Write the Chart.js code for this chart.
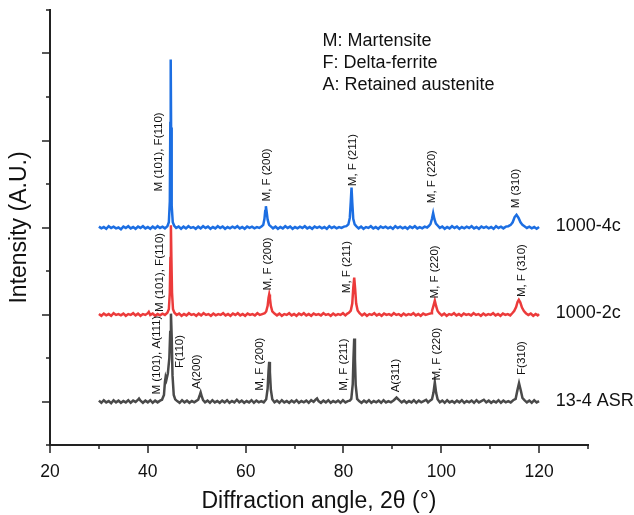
<!DOCTYPE html>
<html>
<head>
<meta charset="utf-8">
<script src="https://cdn.jsdelivr.net/npm/chart.js@4"></script>
<style>
  html, body { margin: 0; padding: 0; background: #fff; }
  #wrap { width: 634px; height: 515px; }
</style>
</head>
<body>
<div id="wrap"><canvas id="xrd" width="634" height="515"></canvas></div>
<script>
// ---- data: [2theta, offset intensity] ----
const SERIES_NAMES = ['1000-4c', '1000-2c', '13-4 ASR'];
const SERIES_COLORS = ['#1c6ee2', '#ec3b3b', '#4a4a4a'];

const PTS_4C = [
  [30,5.02],[30.5,4.98],[31,5.01],[31.5,4.97],[32,5.03],[32.5,4.99],[33,5.02],[33.5,4.98],[34,5.00],[34.5,4.96],
  [35,5.02],[35.5,4.99],[36,5.03],[36.5,4.98],[37,5.01],[37.5,4.97],[38,5.02],[38.5,4.99],[39,5.03],[39.5,4.98],
  [40,5.01],[40.5,4.97],[41,5.02],[41.5,4.98],[42,5.03],[42.5,4.99],[43,5.02],[43.5,4.98],[44,5.03],
  [44.3,5.12],[44.5,5.6],[44.6,7.4],[44.68,8.86],[44.76,7.3],[44.88,5.5],[45.1,5.12],[45.4,5.04],
  [45.8,4.99],[46.3,5.02],[46.8,4.97],[47.3,5.02],[47.8,4.98],[48.3,5.03],[48.8,4.99],[49.3,5.01],[49.8,4.97],[50.3,5.02],
  [50.8,4.98],[51.3,5.03],[51.8,4.99],[52.3,5.02],[52.8,4.97],[53.3,5.01],[53.8,4.98],[54.3,5.03],[54.8,4.99],[55.3,5.02],
  [55.8,4.97],[56.3,5.01],[56.8,4.98],[57.3,5.02],[57.8,4.99],[58.3,5.03],[58.8,4.98],[59.3,5.01],[59.8,4.97],[60.3,5.02],
  [60.8,4.99],[61.3,5.02],[61.8,4.98],[62.3,5.01],[62.8,4.99],[63.3,5.03],
  [63.6,5.06],[63.85,5.2],[64.0,5.38],[64.14,5.49],[64.3,5.36],[64.5,5.18],[64.8,5.06],[65.2,5.02],
  [65.6,4.98],[66.1,5.02],[66.6,4.97],[67.1,5.01],[67.6,4.98],[68.1,5.03],[68.6,4.99],[69.1,5.02],[69.6,4.97],[70.1,5.01],
  [70.6,4.98],[71.1,5.02],[71.6,4.99],[72.1,5.03],[72.6,4.98],[73.1,5.01],[73.6,4.97],[74.1,5.02],[74.6,4.99],[75.1,5.02],
  [75.6,4.98],[76.1,5.01],[76.6,4.97],[77.1,5.03],[77.6,4.99],[78.1,5.02],[78.6,4.98],[79.1,5.01],[79.6,4.99],[80.1,5.02],[80.6,5.03],
  [81.0,5.07],[81.3,5.22],[81.5,5.6],[81.65,5.92],[81.8,5.58],[82.0,5.2],[82.3,5.07],[82.7,5.02],
  [83.1,4.98],[83.6,5.02],[84.1,4.97],[84.6,5.01],[85.1,4.99],[85.6,5.03],[86.1,4.98],[86.6,5.01],[87.1,4.97],[87.6,5.02],
  [88.1,4.99],[88.6,5.02],[89.1,4.98],[89.6,5.01],[90.1,4.97],[90.6,5.03],[91.1,4.99],[91.6,5.02],[92.1,4.98],[92.6,5.01],
  [93.1,4.97],[93.6,5.02],[94.1,4.99],[94.6,5.03],[95.1,4.98],[95.6,5.01],[96.1,4.98],[96.6,5.02],[97.1,5.00],[97.5,5.04],
  [97.8,5.08],[98.1,5.2],[98.34,5.33],[98.6,5.19],[98.9,5.09],[99.3,5.04],
  [99.7,4.99],[100.2,5.02],[100.7,4.97],[101.2,5.01],[101.7,4.98],[102.2,5.03],[102.7,4.99],[103.2,5.02],[103.7,4.97],[104.2,5.01],
  [104.7,4.98],[105.2,5.02],[105.7,4.99],[106.2,5.03],[106.7,4.98],[107.2,5.01],[107.7,4.97],[108.2,5.02],[108.7,4.99],[109.2,5.02],
  [109.7,4.98],[110.2,5.01],[110.7,4.97],[111.2,5.03],[111.7,4.99],[112.2,5.02],[112.7,4.98],[113.2,5.02],[113.7,5.03],
  [114.2,5.06],[114.6,5.12],[115.0,5.24],[115.38,5.29],[115.8,5.22],[116.2,5.12],[116.6,5.06],[117.0,5.03],
  [117.5,4.99],[118.0,5.02],[118.5,4.98],[119.0,5.01],[119.5,4.97],[120,5.01]
];

const PTS_2C = [
  [30,3.01],[30.5,2.97],[31,3.02],[31.5,2.98],[32,3.01],[32.5,2.97],[33,3.03],[33.5,2.99],[34,3.01],[34.5,2.98],
  [35,3.02],[35.5,2.97],[36,3.01],[36.5,2.99],[37,3.03],[37.5,2.98],[38,3.02],[38.5,2.97],[39,3.01],[39.5,2.99],
  [40,3.03],[40.2,3.06],[40.5,2.99],[41,3.02],[41.5,2.97],[42,3.01],[42.5,2.98],[43,3.02],[43.5,2.99],[44,3.04],
  [44.3,3.12],[44.5,3.5],[44.62,4.3],[44.72,5.05],[44.82,4.3],[44.95,3.5],[45.15,3.12],[45.45,3.04],
  [45.9,2.99],[46.4,3.02],[46.9,2.97],[47.4,3.01],[47.9,2.98],[48.4,3.03],[48.9,2.99],[49.4,3.01],[49.9,2.97],[50.4,3.02],
  [50.9,2.98],[51.4,3.03],[51.9,2.99],[52.4,3.01],[52.9,2.97],[53.4,3.02],[53.9,2.98],[54.4,3.01],[54.9,2.99],[55.4,3.03],
  [55.9,2.98],[56.4,3.01],[56.9,2.97],[57.4,3.02],[57.9,2.99],[58.4,3.03],[58.9,2.98],[59.4,3.01],[59.9,2.97],[60.4,3.02],
  [60.9,2.99],[61.4,3.01],[61.9,2.98],[62.4,3.03],[62.9,2.99],[63.4,3.01],[63.9,3.03],
  [64.2,3.07],[64.5,3.2],[64.68,3.38],[64.82,3.46],[64.97,3.37],[65.15,3.2],[65.45,3.07],[65.9,3.02],
  [66.4,2.98],[66.9,3.02],[67.4,2.97],[67.9,3.01],[68.4,2.99],[68.9,3.03],[69.4,2.98],[69.9,3.01],[70.4,2.97],[70.9,3.02],
  [71.4,2.99],[71.9,3.03],[72.4,2.98],[72.9,3.01],[73.4,2.97],[73.9,3.02],[74.4,2.99],[74.9,3.01],[75.4,2.98],[75.9,3.03],
  [76.4,2.99],[76.9,3.01],[77.4,2.97],[77.9,3.02],[78.4,2.98],[78.9,3.01],[79.4,2.99],[79.9,3.03],[80.4,2.98],[80.8,3.02],[81.1,3.04],
  [81.5,3.09],[81.8,3.25],[82.0,3.6],[82.2,3.85],[82.38,3.6],[82.6,3.25],[82.9,3.09],[83.3,3.03],
  [83.8,2.98],[84.3,3.02],[84.8,2.97],[85.3,3.01],[85.8,2.99],[86.3,3.03],[86.8,2.98],[87.3,3.01],[87.8,2.97],[88.3,3.02],
  [88.8,2.99],[89.3,3.01],[89.8,2.98],[90.3,3.03],[90.8,2.99],[91.3,3.01],[91.8,2.97],[92.3,3.02],[92.8,2.98],[93.3,3.01],
  [93.8,2.99],[94.3,3.03],[94.8,2.98],[95.3,3.01],[95.8,2.97],[96.3,3.02],[96.8,2.99],[97.3,3.01],[97.9,3.03],
  [98.1,3.08],[98.4,3.2],[98.68,3.32],[98.95,3.19],[99.25,3.08],[99.6,3.03],
  [100.1,2.98],[100.6,3.02],[101.1,2.97],[101.6,3.01],[102.1,2.99],[102.6,3.03],[103.1,2.98],[103.6,3.01],[104.1,2.97],[104.6,3.02],
  [105.1,2.99],[105.6,3.01],[106.1,2.98],[106.6,3.03],[107.1,2.99],[107.6,3.01],[108.1,2.97],[108.6,3.02],[109.1,2.98],[109.6,3.01],
  [110.1,2.99],[110.6,3.03],[111.1,2.98],[111.6,3.01],[112.1,2.97],[112.6,3.02],[113.1,2.99],[113.6,3.01],[114.1,2.98],[114.6,3.04],
  [114.9,3.08],[115.3,3.17],[115.6,3.29],[115.85,3.34],[116.15,3.28],[116.5,3.16],[116.9,3.08],[117.3,3.03],
  [117.8,2.99],[118.3,3.02],[118.8,2.97],[119.3,3.01],[119.7,2.98],[120,3.01]
];

const PTS_ASR = [
  [30,1.02],[30.5,0.97],[31,1.03],[31.5,0.98],[32,1.01],[32.5,0.96],[33,1.03],[33.5,0.98],[34,1.02],[34.5,0.97],
  [35,1.01],[35.5,0.98],[36,1.03],[36.5,0.97],[37,1.02],[37.5,0.99],[37.9,1.03],[38.2,1.07],[38.5,1.02],[39,0.97],
  [39.5,1.02],[40,0.98],[40.5,1.03],[41,0.97],[41.5,1.02],[42,0.98],[42.5,1.02],[42.9,1.04],
  [43.3,1.15],[43.5,1.45],[43.64,1.56],[43.8,1.5],[44.1,1.65],[44.4,2.0],[44.58,2.6],[44.73,3.02],[44.88,2.5],[45.05,1.6],[45.3,1.15],[45.6,1.05],
  [46,1.01],[46.5,0.97],[47,1.03],[47.5,0.98],[48,1.02],[48.5,0.97],[49,1.01],[49.5,0.98],[50,1.02],[50.3,1.04],
  [50.55,1.12],[50.8,1.21],[51.05,1.11],[51.3,1.03],
  [51.7,0.98],[52.2,1.02],[52.7,0.97],[53.2,1.03],[53.7,0.98],[54.2,1.01],[54.7,0.97],[55.2,1.02],[55.7,0.98],[56.2,1.03],
  [56.7,0.97],[57.2,1.01],[57.7,0.98],[58.2,1.04],[58.7,0.98],[59.2,1.02],[59.7,0.97],[60.2,1.01],[60.7,0.98],[61.2,1.03],
  [61.7,0.97],[62.2,1.02],[62.7,0.98],[63.2,1.01],[63.7,0.98],[64.2,1.05],
  [64.5,1.3],[64.68,1.7],[64.82,1.91],[64.96,1.68],[65.15,1.28],[65.45,1.05],
  [65.9,0.98],[66.4,1.02],[66.9,0.97],[67.4,1.03],[67.9,0.98],[68.4,1.01],[68.9,0.97],[69.4,1.02],[69.9,0.98],[70.4,1.03],
  [70.9,0.97],[71.4,1.01],[71.9,0.98],[72.4,1.02],[72.9,0.97],[73.4,1.03],[73.9,0.99],[74.3,1.04],[74.6,1.07],[74.9,1.01],
  [75.4,0.97],[75.9,1.02],[76.4,0.98],[76.9,1.03],[77.4,0.97],[77.9,1.01],[78.4,0.98],[78.9,1.02],[79.4,0.97],[79.9,1.03],
  [80.4,0.98],[80.9,1.01],[81.3,1.02],[81.6,1.06],
  [81.9,1.4],[82.05,2.0],[82.2,2.45],[82.35,1.98],[82.5,1.38],[82.8,1.06],
  [83.2,1.01],[83.7,0.97],[84.2,1.02],[84.7,0.98],[85.2,1.03],[85.7,0.97],[86.2,1.01],[86.7,0.98],[87.2,1.02],[87.7,0.97],
  [88.2,1.03],[88.7,0.98],[89.2,1.01],[89.7,0.98],[90.3,1.03],[90.85,1.09],[91.4,1.03],[91.9,0.98],[92.4,1.02],[92.9,0.97],
  [93.4,1.01],[93.9,0.98],[94.4,1.03],[94.9,0.97],[95.4,1.02],[95.9,0.98],[96.4,1.01],[96.9,1.04],[97.3,0.98],[97.7,1.02],[98.1,1.05],
  [98.4,1.2],[98.68,1.44],[98.95,1.2],[99.25,1.05],
  [99.7,0.98],[100.2,1.02],[100.7,0.97],[101.2,1.03],[101.7,0.98],[102.2,1.01],[102.7,0.97],[103.2,1.02],[103.7,0.98],[104.2,1.03],
  [104.7,0.97],[105.2,1.01],[105.7,0.98],[106.2,1.02],[106.7,0.97],[107.2,1.03],[107.7,0.98],[108.2,1.01],[108.7,1.04],[109.2,0.98],
  [109.7,1.02],[110.2,0.97],[110.7,1.01],[111.2,0.98],[111.7,1.03],[112.2,0.97],[112.7,1.02],[113.2,0.98],[113.7,1.01],[114.2,0.98],[114.7,1.03],
  [115.2,1.06],[115.55,1.25],[115.9,1.42],[116.25,1.26],[116.6,1.08],[117.0,1.03],
  [117.5,0.98],[118,1.02],[118.5,0.97],[119,1.03],[119.5,0.98],[120,1.01]
];

// x tick labels (only every 20 degrees is labelled)
const X_TICK_LABELS = ['20', '40', '60', '80', '100', '120'];

// peak labels: text, 2theta of the text column, intensity where the text starts
const PEAK_TEXT = [
  'M (101), F(110)', 'M, F (200)', 'M, F (211)', 'M, F (220)', 'M (310)',
  'M (101), F(110)', 'M, F (200)', 'M, F (211)', 'M, F (220)', 'M, F (310)',
  'M (101), A(111)', 'F(110)', 'A(200)', 'M, F (200)', 'M, F (211)', 'A(311)', 'M, F (220)', 'F(310)'
];
const PEAK_X = [
  42.34, 64.29, 81.86, 98.01, 115.24,
  42.48, 64.62, 80.64, 98.68, 116.4,
  41.81, 46.57, 49.98, 62.91, 80.15, 90.65, 99.03, 116.4
];
const PEAK_Y = [
  5.83, 5.60, 5.95, 5.56, 5.44,
  3.06, 3.55, 3.49, 3.37, 3.40,
  1.16, 1.77, 1.29, 1.25, 1.25, 1.21, 1.48, 1.61
];

const KEY_LINES = ['M: Martensite', 'F: Delta-ferrite', 'A: Retained austenite'];
const KEY_X = 75.7;
const KEY_Y = [9.29, 8.79, 8.27];

const NAME_X = 123.4;
const NAME_Y = [5.04, 3.03, 1.0];

const FONT = '"Liberation Sans", Arial, sans-serif';

const toXY = pts => pts.map(p => ({ x: p[0], y: p[1] }));

// tick marks (long on major, short on minor) + text annotations
const annotate = {
  id: 'annotate',
  afterDraw(chart) {
    const ctx = chart.ctx;
    const xs = chart.scales.x, ys = chart.scales.y;
    const area = chart.chartArea;
    ctx.save();
    ctx.strokeStyle = '#222';
    ctx.lineWidth = 1.5;
    ctx.beginPath();
    for (let v = 20; v <= 130; v += 10) {
      const px = Math.round(xs.getPixelForValue(v));
      const len = (v % 20 === 0) ? 8 : 4;
      ctx.moveTo(px, area.bottom);
      ctx.lineTo(px, area.bottom + len);
    }
    for (let v = 0; v <= 10; v += 1) {
      const py = Math.round(ys.getPixelForValue(v));
      const len = (v % 2 === 1) ? 8 : 4;
      ctx.moveTo(area.left, py);
      ctx.lineTo(area.left - len, py);
    }
    ctx.stroke();

    ctx.fillStyle = '#111';
    ctx.font = '11.5px ' + FONT;
    ctx.textAlign = 'left';
    ctx.textBaseline = 'middle';
    PEAK_TEXT.forEach((t, i) => {
      ctx.save();
      ctx.translate(xs.getPixelForValue(PEAK_X[i]), ys.getPixelForValue(PEAK_Y[i]));
      ctx.rotate(-Math.PI / 2);
      ctx.fillText(t, 0, 0);
      ctx.restore();
    });

    ctx.font = '18px ' + FONT;
    KEY_LINES.forEach((t, i) => {
      ctx.fillText(t, xs.getPixelForValue(KEY_X), ys.getPixelForValue(KEY_Y[i]));
    });
    SERIES_NAMES.forEach((t, i) => {
      ctx.fillText(t, xs.getPixelForValue(NAME_X), ys.getPixelForValue(NAME_Y[i]));
    });
    ctx.restore();
  }
};

const ctx = document.getElementById('xrd').getContext('2d');
new Chart(ctx, {
  type: 'scatter',
  data: {
    datasets: [PTS_4C, PTS_2C, PTS_ASR].map((pts, i) => ({
      label: SERIES_NAMES[i],
      data: toXY(pts),
      showLine: true,
      borderColor: SERIES_COLORS[i],
      backgroundColor: SERIES_COLORS[i],
      borderWidth: 2.5,
      pointRadius: 0,
      tension: 0,
      order: i
    }))
  },
  options: {
    responsive: false,
    animation: false,
    layout: { padding: { left: 0, right: 46, top: 10, bottom: 0 } },
    plugins: { legend: { display: false }, tooltip: { enabled: false } },
    scales: {
      x: {
        type: 'linear',
        min: 20, max: 130,
        grid: { display: false },
        border: { display: true, color: '#222', width: 2 },
        ticks: {
          stepSize: 10,
          autoSkip: false,
          maxRotation: 0,
          padding: 9,
          color: '#111',
          font: { family: FONT, size: 17.5 },
          callback: v => (v % 20 === 0 && v <= 120) ? X_TICK_LABELS[(v - 20) / 20] : ''
        },
        title: {
          display: true,
          text: 'Diffraction angle, 2θ (°)',
          color: '#111',
          font: { family: FONT, size: 23 },
          padding: { top: 0, bottom: 0 }
        },
        afterFit: s => { s.height = 70; }
      },
      y: {
        type: 'linear',
        min: 0, max: 10,
        grid: { display: false },
        border: { display: true, color: '#222', width: 2 },
        ticks: { display: false, stepSize: 1 },
        title: {
          display: true,
          text: 'Intensity (A.U.)',
          color: '#111',
          font: { family: FONT, size: 23 },
          padding: { top: 6, bottom: 0 }
        },
        afterFit: s => { s.width = 50; }
      }
    }
  },
  plugins: [annotate]
});
</script>
</body>
</html>
